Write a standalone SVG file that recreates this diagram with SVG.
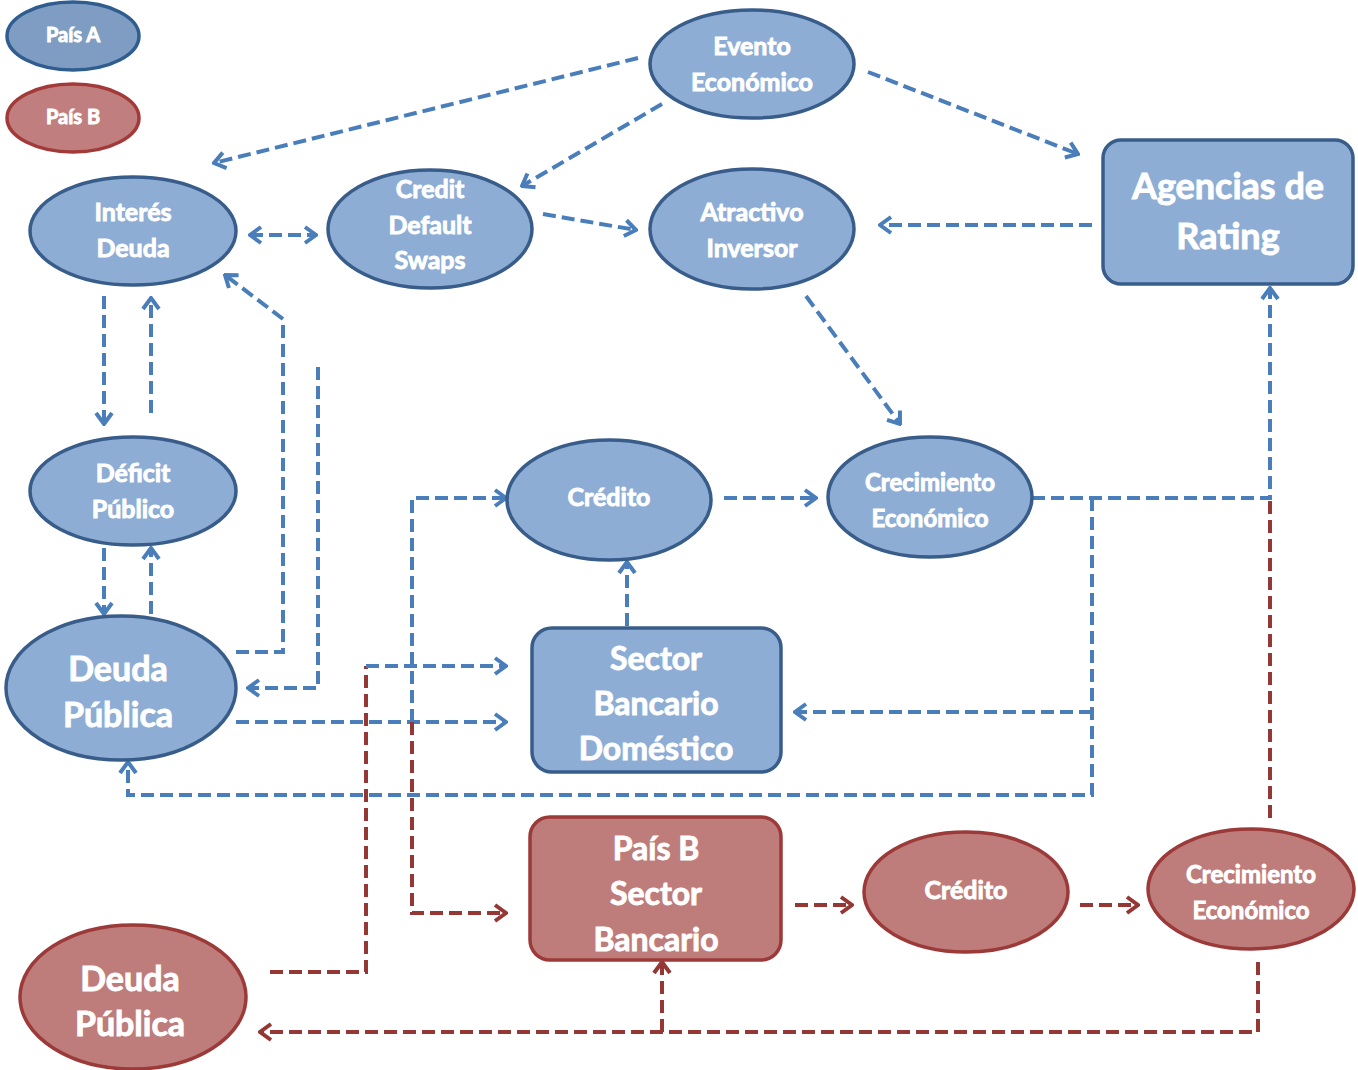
<svg xmlns="http://www.w3.org/2000/svg" width="1358" height="1070" viewBox="0 0 1358 1070">
<style>
.a{fill:#8EADD4;stroke:#385D8A;stroke-width:3.5}
.b{fill:#BE7C7B;stroke:#9B3A38;stroke-width:3.5}
.t{font-family:Lato,"Liberation Sans",sans-serif;font-weight:700;fill:#fff;stroke:#fff;stroke-width:0.9;text-anchor:middle}
.cb{fill:none;stroke:#4A7EBB;stroke-width:4;stroke-dasharray:13 6}
.cr{fill:none;stroke:#953735;stroke-width:4;stroke-dasharray:13 6}
.mb{marker-end:url(#ab)}
.mr{marker-end:url(#ar)}
</style>
<defs>
<marker id="ab" viewBox="0 0 16 20" refX="14" refY="10" markerWidth="16" markerHeight="20" markerUnits="userSpaceOnUse" orient="auto-start-reverse">
<path d="M3,2 L14,10 L3,18" fill="none" stroke="#4A7EBB" stroke-width="4" stroke-dasharray="none" stroke-linejoin="miter"/>
</marker>
<marker id="ar" viewBox="0 0 16 20" refX="14" refY="10" markerWidth="16" markerHeight="20" markerUnits="userSpaceOnUse" orient="auto-start-reverse">
<path d="M3,2 L14,10 L3,18" fill="none" stroke="#953735" stroke-width="4" stroke-dasharray="none" stroke-linejoin="miter"/>
</marker>
</defs>
<rect width="1358" height="1070" fill="#fff"/>
<g id="connectors">
<path class="cb mb" d="M638,58 L214,163"/>
<path class="cb mb" d="M662,104 L522,186"/>
<path class="cb mb" d="M868,72 L1078,154"/>
<path class="cb mb" d="M250,235 L316,235" marker-start="url(#ab)"/>
<path class="cb mb" d="M543,214 L636,230"/>
<path class="cb mb" d="M1092,225 L880,225"/>
<path class="cb mb" d="M806,296 L900,424"/>
<path class="cb mb" d="M104,296 L104,424"/>
<path class="cb mb" d="M151,413 L151,298"/>
<path class="cb mb" d="M104,548 L104,614"/>
<path class="cb mb" d="M151,614 L151,548"/>
<path class="cb mb" d="M236,652 L283,652 L283,319 L225,275"/>
<path class="cb mb" d="M318,367 L318,688 L248,688"/>
<path class="cb mb" d="M236,722 L506,722"/>
<path class="cb mb" d="M412,722 L412,498 L506,498"/>
<path class="cr mr" d="M412,722 L412,913 L506,913"/>
<path class="cr" d="M270,972 L366,972 L366,666"/>
<path class="cb mb" d="M366,666 L506,666"/>
<path class="cb mb" d="M627,626 L627,562"/>
<path class="cb mb" d="M724,498 L816,498"/>
<path class="cb mb" d="M1032,498 L1270,498 L1270,288"/>
<path class="cb mb" d="M1092,498 L1092,795 L128,795 L128,762"/>
<path class="cb mb" d="M1092,712 L795,712"/>
<path class="cr" d="M1270,818 L1270,500"/>
<path class="cr mr" d="M795,905 L852,905"/>
<path class="cr mr" d="M1080,905 L1138,905"/>
<path class="cr mr" d="M1258,962 L1258,1032 L260,1032"/>
<path class="cr mr" d="M662,1032 L662,962"/>
</g>
<g id="legend-a"><ellipse cx="73" cy="36" rx="66" ry="34" fill="#7F9DC2" stroke="#2F5D8F" stroke-width="3.5"/><text class="t" x="73" y="42" font-size="20">País A</text></g>
<g id="legend-b"><ellipse cx="73" cy="118" rx="66" ry="34" fill="#C07E7E" stroke="#A33A3A" stroke-width="3.5"/><text class="t" x="73" y="124" font-size="20">País B</text></g>
<g id="evento"><ellipse class="a" cx="752" cy="64" rx="102" ry="54"/><text class="t" font-size="25"><tspan x="752" y="55">Evento</tspan><tspan x="752" y="91">Económico</tspan></text></g>
<g id="interes"><ellipse class="a" cx="133" cy="231" rx="103" ry="54"/><text class="t" font-size="25"><tspan x="133" y="221">Interés</tspan><tspan x="133" y="257">Deuda</tspan></text></g>
<g id="cds"><ellipse class="a" cx="430" cy="229" rx="102" ry="59"/><text class="t" font-size="25"><tspan x="430" y="198">Credit</tspan><tspan x="430" y="234">Default</tspan><tspan x="430" y="269">Swaps</tspan></text></g>
<g id="atractivo"><ellipse class="a" cx="752" cy="229" rx="102" ry="60"/><text class="t" font-size="25"><tspan x="752" y="221">Atractivo</tspan><tspan x="752" y="257">Inversor</tspan></text></g>
<g id="agencias"><rect class="a" x="1103" y="140" width="250" height="144" rx="18"/><text class="t" font-size="36"><tspan x="1228" y="199">Agencias de</tspan><tspan x="1228" y="249">Rating</tspan></text></g>
<g id="deficit"><ellipse class="a" cx="133" cy="491" rx="103" ry="54"/><text class="t" font-size="25"><tspan x="133" y="482">Déficit</tspan><tspan x="133" y="518">Público</tspan></text></g>
<g id="deuda-a"><ellipse class="a" cx="121" cy="688" rx="115" ry="72"/><text class="t" font-size="34"><tspan x="118" y="681">Deuda</tspan><tspan x="118" y="727">Pública</tspan></text></g>
<g id="credito-a"><ellipse class="a" cx="609" cy="500" rx="102" ry="60"/><text class="t" font-size="25" x="609" y="506">Crédito</text></g>
<g id="crecimiento-a"><ellipse class="a" cx="930" cy="497" rx="102" ry="60"/><text class="t" font-size="24"><tspan x="930" y="491">Crecimiento</tspan><tspan x="930" y="527">Económico</tspan></text></g>
<g id="sector-a"><rect class="a" x="532" y="628" width="249" height="144" rx="20"/><text class="t" font-size="32"><tspan x="656" y="670">Sector</tspan><tspan x="656" y="715">Bancario</tspan><tspan x="656" y="760">Doméstico</tspan></text></g>
<g id="sector-b"><rect class="b" x="530" y="817" width="251" height="143" rx="20"/><text class="t" font-size="32"><tspan x="656" y="860">País B</tspan><tspan x="656" y="905">Sector</tspan><tspan x="656" y="951">Bancario</tspan></text></g>
<g id="credito-b"><ellipse class="b" cx="966" cy="892" rx="102" ry="60"/><text class="t" font-size="25" x="966" y="899">Crédito</text></g>
<g id="crecimiento-b"><ellipse class="b" cx="1251" cy="889" rx="103" ry="60"/><text class="t" font-size="24"><tspan x="1251" y="883">Crecimiento</tspan><tspan x="1251" y="919">Económico</tspan></text></g>
<g id="deuda-b"><ellipse class="b" cx="133" cy="997" rx="113" ry="72"/><text class="t" font-size="34"><tspan x="130" y="991">Deuda</tspan><tspan x="130" y="1036">Pública</tspan></text></g>
</svg>
